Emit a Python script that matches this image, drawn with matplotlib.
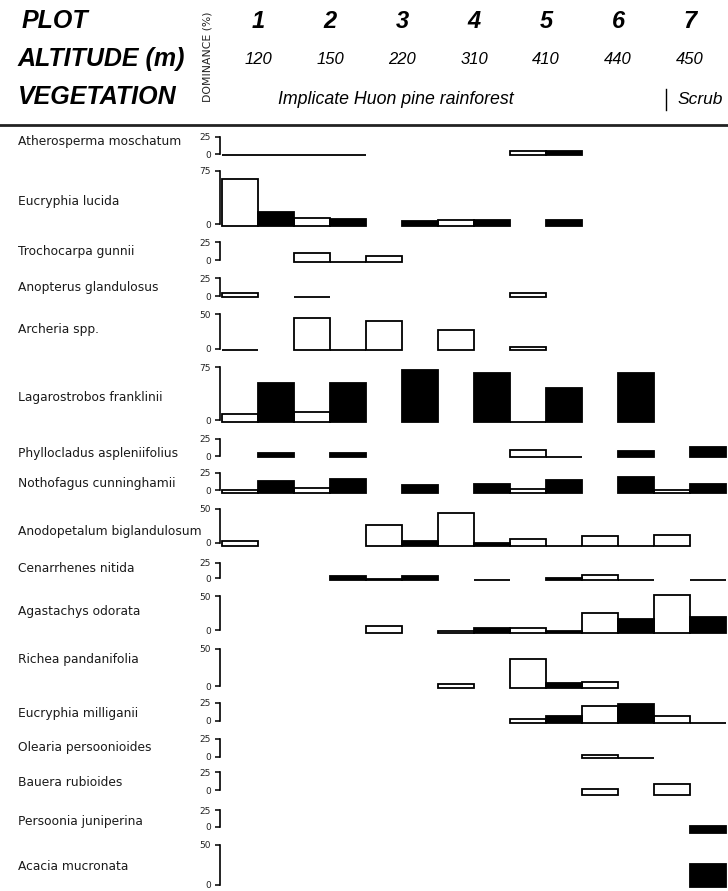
import numpy as np
import matplotlib
matplotlib.use("Agg")
import matplotlib.pyplot as plt

# ---------------------------------------------------------------- data
plots = [1, 2, 3, 4, 5, 6, 7]
altitudes = [120, 150, 220, 310, 410, 440, 450]

species = [
    "Atherosperma moschatum",
    "Eucryphia lucida",
    "Trochocarpa gunnii",
    "Anopterus glandulosus",
    "Archeria spp.",
    "Lagarostrobos franklinii",
    "Phyllocladus aspleniifolius",
    "Nothofagus cunninghamii",
    "Anodopetalum biglandulosum",
    "Cenarrhenes nitida",
    "Agastachys odorata",
    "Richea pandanifolia",
    "Eucryphia milliganii",
    "Olearia persoonioides",
    "Bauera rubioides",
    "Persoonia juniperina",
    "Acacia mucronata",
]

# top of the dominance scale drawn for each species
scale_max = [25, 75, 25, 25, 50, 75, 25, 25, 50, 25, 50, 50, 25, 25, 25, 25, 50]

N = np.nan  # species not recorded in that plot
# dominance (%) shown by the open bars, plots 1-7
open_cover = [
    [0, 0, N, N, 6, N, N],
    [67, 11, N, 9, N, N, N],
    [N, 12, 8, N, N, N, N],
    [5, 0, N, N, 5, N, N],
    [0, 46, 42, 29, 5, N, N],
    [11, 14, N, N, 0, N, N],
    [N, N, N, N, 11, N, N],
    [5, 8, N, N, 6, N, 4],
    [8, N, 31, 48, 11, 14, 16],
    [N, N, 2, N, N, 8, N],
    [N, N, 10, 3, 7, 30, 56],
    [N, N, N, 6, 39, 8, N],
    [N, N, N, N, 5, 24, 10],
    [N, N, N, N, N, 4, N],
    [N, N, N, N, N, 9, 15],
    [N, N, N, N, N, N, N],
    [N, N, N, N, N, N, N],
]
# dominance (%) shown by the solid bars, plots 1-7
filled_cover = [
    [0, 0, N, N, 6, N, N],
    [20, 10, 7, 9, 8, N, N],
    [N, 0, N, N, N, N, N],
    [N, N, N, N, N, N, N],
    [N, 0, N, N, N, N, N],
    [55, 55, 74, 70, 48, 70, N],
    [6, 6, N, N, 0, 9, 15],
    [18, 21, 12, 13, 19, 24, 13],
    [N, N, 8, 4, 0, 0, N],
    [N, 6, 7, 0, 4, 0, 0],
    [N, N, N, 7, 3, 21, 24],
    [N, N, N, N, 7, N, N],
    [N, N, N, N, 10, 26, 0],
    [N, N, N, N, N, 0, N],
    [N, N, N, N, N, N, N],
    [N, N, N, N, N, N, 11],
    [N, N, N, N, N, N, 29],
]

# ---------------------------------------------------------------- layout (pixels from top)
W, H = 728, 891
x_left_px, x_right_px = 220, 728
xlim = (0.472, 7.528)

zero_px = [154, 224, 260, 296, 349, 420, 456, 490, 543, 578, 630, 686, 721, 757, 790, 827, 885]
top_px = [137, 171, 242, 278, 314, 367, 439, 473, 509, 563, 596, 649, 703, 739, 772, 810, 845]
drop_px = [1, 2, 2, 1, 1, 2, 1, 3, 3, 2, 3, 2, 2, 1, 5, 6, 2]
label_px = [142, 202, 252, 287, 329, 398, 453, 484, 531, 568, 612, 660, 713, 747, 782, 822, 866]

LABEL_FONT = "DejaVu Sans"
HEAD_FONT = "Liberation Sans"

fig = plt.figure(figsize=(W / 100, H / 100), dpi=100)
fig.patch.set_facecolor("white")


def fig_rect(top, bottom):
    return [x_left_px / W, 1 - bottom / H, (x_right_px - x_left_px) / W, (bottom - top) / H]


pos = np.array(plots, dtype=float)

for i, name in enumerate(species):
    ymax = scale_max[i]
    z, t, d = zero_px[i], top_px[i], drop_px[i]

    # scale bracket with 0 / max ticks
    sax = fig.add_axes(fig_rect(t, z))
    sax.set_xlim(xlim)
    sax.set_ylim(0, ymax)
    for s in ("top", "right", "bottom"):
        sax.spines[s].set_visible(False)
    sax.spines["left"].set_linewidth(1.2)
    sax.set_xticks([])
    sax.set_yticks([0, ymax])
    sax.set_yticklabels(["0", str(ymax)], family=LABEL_FONT, color="#222222")
    sax.tick_params(axis="y", direction="out", length=3.5, width=1.1, pad=3,
                    labelsize=6.5)
    sax.patch.set_alpha(0)

    # paired bars for each plot
    bax = fig.add_axes(fig_rect(t + d, z + d))
    bax.set_xlim(xlim)
    bax.set_ylim(0, ymax)
    bax.axis("off")
    o = np.array(open_cover[i], dtype=float)
    f = np.array(filled_cover[i], dtype=float)
    mo, mf = ~np.isnan(o), ~np.isnan(f)
    bax.bar(pos[mo] - 0.25, o[mo], width=0.5, color="white", edgecolor="black",
            linewidth=1.3, clip_on=False)
    bax.bar(pos[mf] + 0.25, f[mf], width=0.5, color="black", edgecolor="black",
            linewidth=1.3, clip_on=False)

    fig.text(18 / W, 1 - label_px[i] / H, name, fontsize=8.8, family=LABEL_FONT,
             ha="left", va="center", color="#1a1a1a")

# ---------------------------------------------------------------- header
over = fig.add_axes([0, 0, 1, 1])
over.set_xlim(0, W)
over.set_ylim(H, 0)
over.axis("off")

head_kw = dict(family=HEAD_FONT, fontweight="bold", fontstyle="italic",
               fontsize=18, ha="left", va="center")
over.text(22, 21, "PLOT", **head_kw)
over.text(18, 59, "ALTITUDE (m)", **head_kw)
over.text(18, 97, "VEGETATION", **head_kw)
over.text(207, 57, "DOMINANCE (%)", family=LABEL_FONT, fontsize=7.8,
          rotation=90, ha="center", va="center", color="#222222")
over.text(396, 99, "Implicate Huon pine rainforest", family=HEAD_FONT,
          fontstyle="italic", fontsize=12.8, ha="center", va="center")
over.plot([666, 666], [89, 110], color="black", lw=1)
over.text(678, 99, "Scrub", family=HEAD_FONT, fontstyle="italic",
          fontsize=12.5, ha="left", va="center")
over.plot([0, W], [125, 125], color="#222222", lw=2)

hax = fig.add_axes([x_left_px / W, 0, (x_right_px - x_left_px) / W, 1])
hax.set_xlim(xlim)
hax.set_ylim(H, 0)
hax.axis("off")
for p, alt in zip(plots, altitudes):
    hax.text(p, 21, str(p), family=HEAD_FONT, fontweight="bold",
             fontstyle="italic", fontsize=17, ha="center", va="center")
    hax.text(p, 60, str(alt), family=HEAD_FONT, fontstyle="italic",
             fontsize=12, ha="center", va="center")

fig.savefig("out.png", dpi=100, facecolor="white")
